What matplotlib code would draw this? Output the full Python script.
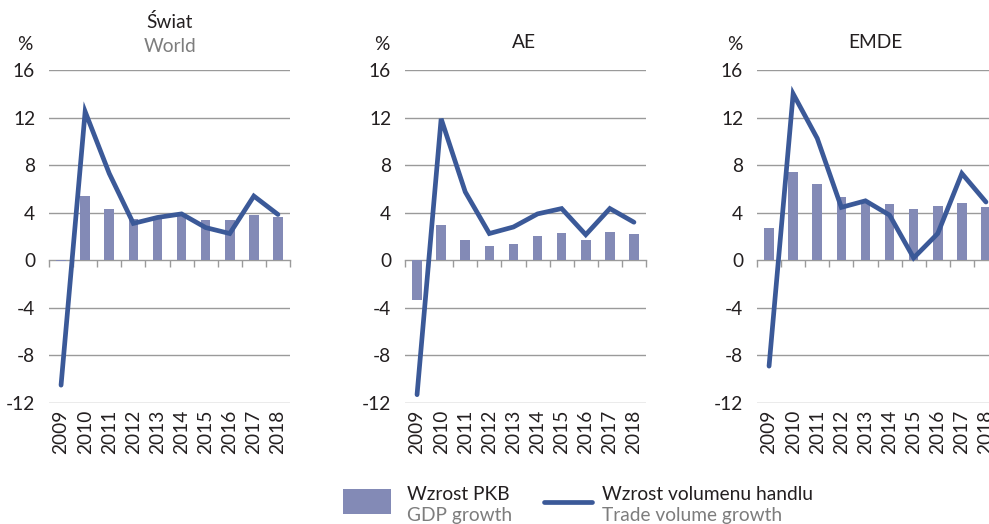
import matplotlib as mpl
import matplotlib.pyplot as plt
import matplotlib.patches as mpatches
from matplotlib.lines import Line2D
import numpy as np

mpl.rcParams["font.family"] = ["Lato", "DejaVu Sans"]

# ── DATA ────────────────────────────────────────────────────────────────────
YEARS = ["2009", "2010", "2011", "2012", "2013", "2014", "2015", "2016", "2017", "2018"]

WORLD_GDP   = [-0.1, 5.4, 4.3, 3.5, 3.5, 3.7, 3.4, 3.4, 3.8, 3.6]
WORLD_TRADE = [-10.5, 12.5, 7.3, 3.1, 3.6, 3.9, 2.75, 2.25, 5.4, 3.85]

AE_GDP   = [-3.3, 3.0, 1.7, 1.2, 1.4, 2.05, 2.3, 1.7, 2.35, 2.2]
AE_TRADE = [-11.3, 11.9, 5.75, 2.25, 2.8, 3.9, 4.35, 2.15, 4.35, 3.2]

EMDE_GDP   = [2.7, 7.4, 6.4, 5.3, 5.0, 4.7, 4.3, 4.55, 4.8, 4.5]
EMDE_TRADE = [-8.9, 14.0, 10.25, 4.45, 5.0, 3.8, 0.2, 2.25, 7.3, 4.9]

Y_TICKS = [-12, -8, -4, 0, 4, 8, 12, 16]

# ── APPEARANCE ──────────────────────────────────────────────────────────────
BAR_COLOR  = "#838AB6"
LINE_COLOR = "#3B5998"
GRID_COLOR = "#9a9a9a"
TEXT_COLOR = "#231f20"
SUB_COLOR  = "#7d7d7d"
FS = 13.8

W, H = 989, 524
fig = plt.figure(figsize=(W / 100, H / 100), dpi=100)
fig.patch.set_facecolor("white")

# panel boxes in pixels: (left, top, right, bottom)
PANELS = [
    (49, 70, 290, 403),
    (405, 70, 646, 403),
    (757, 70, 998, 403),
]
panel_data = [(WORLD_GDP, WORLD_TRADE), (AE_GDP, AE_TRADE), (EMDE_GDP, EMDE_TRADE)]

x = np.arange(len(YEARS))
ymin, ymax = -12, 16
axes = []
for (l, t, r, b), (gdp, trade) in zip(PANELS, panel_data):
    ax = fig.add_axes([l / W, 1 - b / H, (r - l) / W, (b - t) / H])
    ax.set_facecolor("white")
    ax.bar(x, gdp, width=0.4, color=BAR_COLOR, zorder=2)
    ax.plot(x, trade, color=LINE_COLOR, linewidth=3.4, solid_capstyle="round",
            solid_joinstyle="miter", zorder=3)
    ax.set_xlim(-0.5, len(YEARS) - 0.5)
    ax.set_ylim(ymin, ymax)
    ax.set_yticks(Y_TICKS)
    ax.set_yticklabels([str(v) for v in Y_TICKS])
    for v in Y_TICKS:
        if v != 0:
            ax.axhline(v, color=GRID_COLOR, linewidth=1.0, zorder=0)
    for s in ax.spines.values():
        s.set_visible(False)
    ax.tick_params(axis="y", length=0, pad=10, labelsize=FS, labelcolor=TEXT_COLOR)
    ax.set_xticks(x)
    ax.set_xticklabels(YEARS, rotation=90)
    ax.tick_params(axis="x", length=0, pad=5, labelsize=FS, labelcolor=TEXT_COLOR)

    # zero axis with boundary tick marks
    sec = ax.secondary_xaxis((0 - ymin) / (ymax - ymin))
    sec.set_xticks(np.arange(len(YEARS) + 1) - 0.5)
    sec.tick_params(axis="x", length=5, width=1.0, color=GRID_COLOR, labelbottom=False)
    sec.spines["bottom"].set_color(GRID_COLOR)
    sec.spines["bottom"].set_linewidth(1.0)
    axes.append(ax)

# ── titles and units ────────────────────────────────────────────────────────
def ftext(px, py, s, **kw):
    fig.text(px / W, 1 - py / H, s, **kw)

ftext(170, 22, "Świat", ha="center", va="center", fontsize=FS, color=TEXT_COLOR)
ftext(170, 47, "World", ha="center", va="center", fontsize=FS, color=SUB_COLOR)
ftext(524, 42, "AE", ha="center", va="center", fontsize=FS, color=TEXT_COLOR)
ftext(875, 42, "EMDE", ha="center", va="center", fontsize=FS, color=TEXT_COLOR)
for px in (25, 382, 735):
    ftext(px, 45, "%", ha="center", va="center", fontsize=FS, color=TEXT_COLOR)

# ── legend ──────────────────────────────────────────────────────────────────
fig.patches.append(mpatches.Rectangle(
    (343 / W, 1 - 514 / H), 48 / W, 25 / H, transform=fig.transFigure,
    facecolor=BAR_COLOR, edgecolor="none"))
fig.lines.append(Line2D(
    [544 / W, 592 / W], [1 - 502 / H, 1 - 502 / H], transform=fig.transFigure,
    color=LINE_COLOR, linewidth=3.4, solid_capstyle="round"))
ftext(407, 494, "Wzrost PKB", ha="left", va="center", fontsize=FS, color=TEXT_COLOR)
ftext(407, 515, "GDP growth", ha="left", va="center", fontsize=FS, color=SUB_COLOR)
ftext(602, 494, "Wzrost volumenu handlu", ha="left", va="center", fontsize=FS, color=TEXT_COLOR)
ftext(602, 515, "Trade volume growth", ha="left", va="center", fontsize=FS, color=SUB_COLOR)

fig.savefig("out.png", dpi=100, facecolor="white")
